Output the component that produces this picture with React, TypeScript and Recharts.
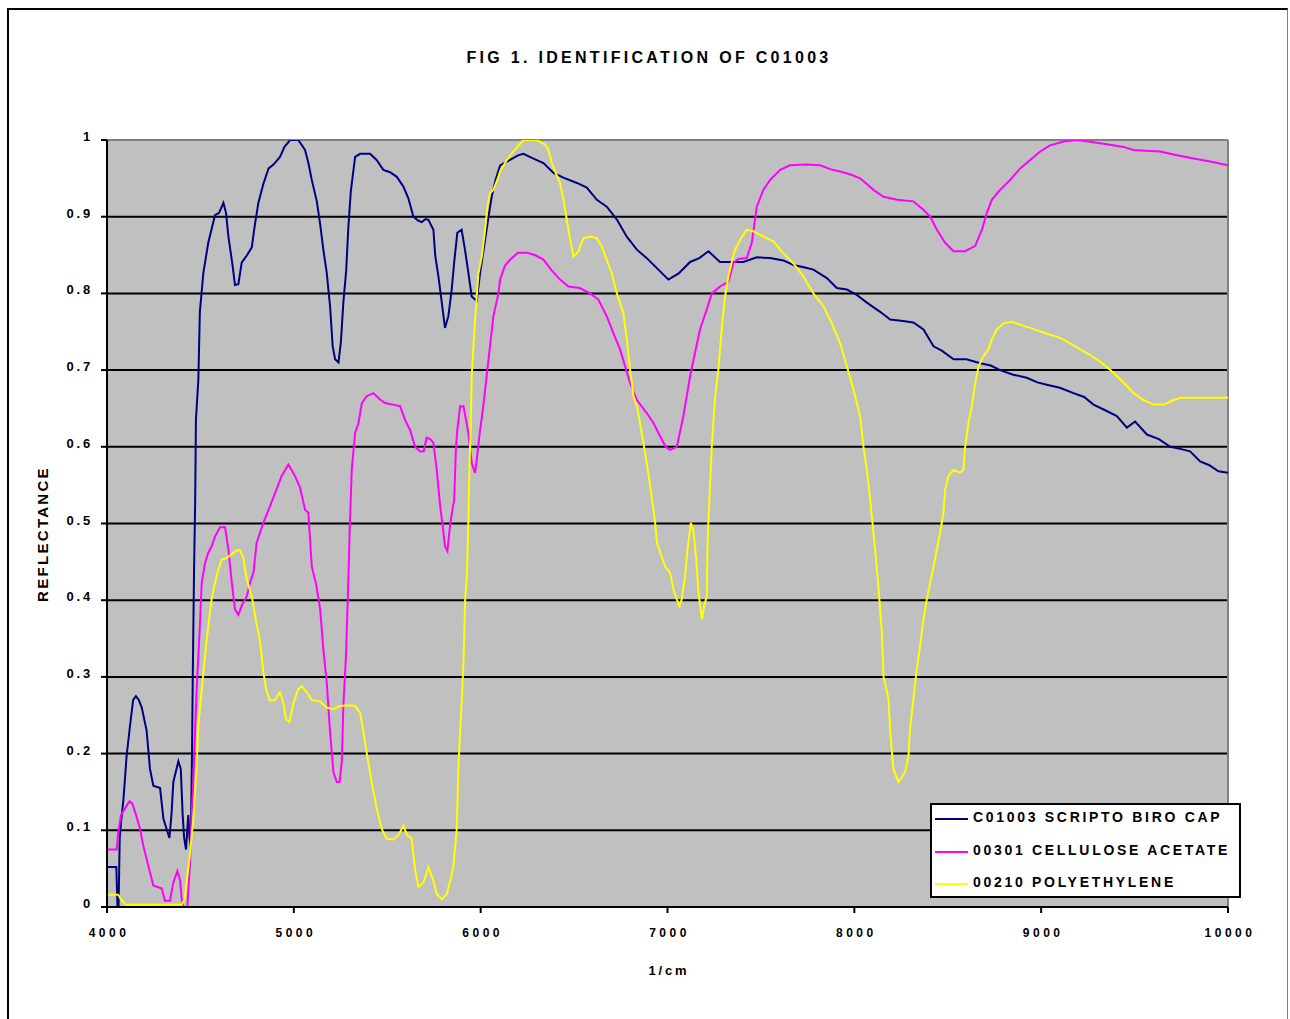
import React from 'react'
import {
  LineChart,
  Line,
  XAxis,
  YAxis,
  CartesianGrid,
  Legend,
  ReferenceLine,
} from 'recharts'

// wavenumber (1/cm) and reflectance
const biroCm = [
  4000, 4050, 4056, 4062, 4068, 4075, 4088, 4105, 4123, 4140, 4155, 4170, 4186, 4212, 4230, 4248, 4284,
  4302, 4334, 4345, 4355, 4382, 4395, 4405, 4413, 4423, 4435, 4442, 4448, 4455, 4459, 4466, 4472, 4476,
  4489, 4497, 4516, 4542, 4578, 4600, 4623, 4637, 4650, 4670, 4685, 4703, 4721, 4750, 4775, 4790, 4810,
  4837, 4865, 4891, 4926, 4950, 4980, 5024, 5060, 5078, 5096, 5123, 5140, 5158, 5176, 5194, 5208, 5221,
  5239, 5252, 5265, 5280, 5292, 5305, 5328, 5355, 5408, 5443, 5479, 5515, 5551, 5587, 5613, 5640, 5665,
  5685, 5705, 5720, 5747, 5757, 5774, 5792, 5809, 5827, 5845, 5858, 5875, 5898, 5916, 5934, 5952, 5979,
  5997, 6024, 6042, 6059, 6080, 6104, 6157, 6200, 6229, 6280, 6336, 6390, 6443, 6515, 6568, 6622, 6675,
  6730, 6782, 6836, 6889, 6943, 7005, 7060, 7121, 7170, 7219, 7281, 7350, 7406, 7478, 7549, 7620, 7674,
  7730, 7781, 7853, 7906, 7960, 8013, 8067, 8138, 8192, 8260, 8316, 8370, 8424, 8470, 8531, 8600, 8674,
  8730, 8780, 8850, 8923, 8980, 9030, 9100, 9173, 9230, 9280, 9340, 9405, 9459, 9503, 9566, 9630, 9691,
  9750, 9797, 9851, 9900, 9949, 10000,
]
const biroRefl = [
  0.052, 0.052, 0.0, 0.0, 0.09, 0.11, 0.14, 0.197, 0.236, 0.27, 0.275, 0.27, 0.26, 0.23, 0.18, 0.158, 0.155,
  0.115, 0.09, 0.12, 0.163, 0.19, 0.18, 0.12, 0.09, 0.075, 0.12, 0.09, 0.08, 0.2, 0.3, 0.44, 0.53, 0.635,
  0.688, 0.776, 0.827, 0.866, 0.902, 0.905, 0.918, 0.905, 0.874, 0.84, 0.811, 0.812, 0.84, 0.85, 0.86, 0.887, 0.918,
  0.943, 0.963, 0.968, 0.978, 0.991, 1.0, 1.0, 0.987, 0.97, 0.948, 0.92, 0.892, 0.857, 0.827, 0.783, 0.731, 0.714,
  0.71, 0.737, 0.788, 0.829, 0.887, 0.933, 0.978, 0.982, 0.982, 0.974, 0.961, 0.958, 0.952, 0.939, 0.924, 0.9, 0.895,
  0.893, 0.897, 0.896, 0.883, 0.849, 0.822, 0.788, 0.755, 0.77, 0.805, 0.84, 0.879, 0.883, 0.857, 0.827, 0.796, 0.79,
  0.827, 0.87, 0.9, 0.926, 0.948, 0.967, 0.974, 0.98, 0.982, 0.976, 0.97, 0.957, 0.951, 0.944, 0.938, 0.922, 0.913,
  0.896, 0.874, 0.857, 0.846, 0.833, 0.818, 0.826, 0.841, 0.846, 0.855, 0.841, 0.841, 0.841, 0.847, 0.846, 0.843, 0.837,
  0.834, 0.831, 0.82, 0.807, 0.805, 0.798, 0.788, 0.776, 0.766, 0.764, 0.762, 0.753, 0.731, 0.725, 0.714, 0.714, 0.709,
  0.706, 0.7, 0.694, 0.69, 0.684, 0.681, 0.677, 0.67, 0.665, 0.655, 0.648, 0.64, 0.625, 0.633, 0.616, 0.61, 0.6,
  0.597, 0.594, 0.581, 0.576, 0.568, 0.566,
]

const acetateCm = [
  4000, 4052, 4060, 4075, 4088, 4120, 4135, 4150, 4177, 4194, 4221, 4248, 4293, 4310, 4337, 4355, 4377,
  4391, 4400, 4409, 4430, 4445, 4453, 4462, 4470, 4480, 4497, 4507, 4525, 4542, 4560, 4578, 4605, 4632,
  4650, 4668, 4685, 4703, 4725, 4748, 4766, 4784, 4801, 4837, 4873, 4900, 4935, 4971, 5006, 5033, 5060,
  5078, 5096, 5120, 5141, 5158, 5176, 5194, 5212, 5230, 5245, 5257, 5265, 5279, 5292, 5300, 5310, 5328,
  5346, 5364, 5390, 5426, 5460, 5488, 5530, 5569, 5595, 5622, 5649, 5676, 5695, 5711, 5730, 5747, 5765,
  5783, 5800, 5809, 5822, 5836, 5850, 5858, 5868, 5875, 5890, 5908, 5934, 5952, 5970, 5979, 5995, 6014,
  6032, 6050, 6068, 6095, 6104, 6130, 6157, 6200, 6247, 6290, 6336, 6380, 6425, 6470, 6530, 6586, 6630,
  6675, 6711, 6746, 6773, 6800, 6836, 6889, 6925, 6960, 6990, 7014, 7050, 7085, 7121, 7145, 7174, 7210,
  7237, 7281, 7326, 7353, 7380, 7424, 7451, 7478, 7513, 7549, 7603, 7656, 7740, 7817, 7870, 7924, 7980,
  8031, 8070, 8102, 8156, 8230, 8316, 8370, 8406, 8442, 8486, 8531, 8593, 8647, 8683, 8709, 8736, 8780,
  8834, 8888, 8941, 8995, 9048, 9120, 9191, 9280, 9360, 9441, 9494, 9560, 9637, 9727, 9816, 9905, 10000,
]
const acetateRefl = [
  0.075, 0.075, 0.097, 0.12, 0.125, 0.138, 0.135, 0.124, 0.102, 0.08, 0.054, 0.028, 0.024, 0.008, 0.008, 0.032, 0.047,
  0.035, 0.01, 0.0, 0.0, 0.06, 0.12, 0.163, 0.22, 0.284, 0.366, 0.423, 0.449, 0.462, 0.47, 0.483, 0.495, 0.495,
  0.466, 0.423, 0.388, 0.381, 0.395, 0.405, 0.423, 0.436, 0.475, 0.501, 0.523, 0.54, 0.562, 0.577, 0.562, 0.547, 0.518,
  0.514, 0.444, 0.42, 0.388, 0.336, 0.293, 0.228, 0.176, 0.163, 0.163, 0.19, 0.262, 0.327, 0.427, 0.5, 0.57, 0.618,
  0.631, 0.657, 0.666, 0.67, 0.662, 0.657, 0.655, 0.653, 0.635, 0.622, 0.6, 0.594, 0.594, 0.612, 0.61, 0.605, 0.57,
  0.523, 0.49, 0.47, 0.464, 0.497, 0.52, 0.53, 0.6, 0.622, 0.653, 0.653, 0.618, 0.579, 0.566, 0.583, 0.618, 0.653,
  0.692, 0.731, 0.77, 0.8, 0.818, 0.836, 0.844, 0.853, 0.853, 0.85, 0.844, 0.83, 0.818, 0.809, 0.807, 0.8, 0.792,
  0.77, 0.748, 0.727, 0.705, 0.683, 0.661, 0.644, 0.631, 0.614, 0.6, 0.596, 0.6, 0.64, 0.692, 0.72, 0.753, 0.779,
  0.8, 0.809, 0.815, 0.84, 0.845, 0.846, 0.866, 0.913, 0.935, 0.948, 0.961, 0.967, 0.968, 0.967, 0.962, 0.959, 0.955,
  0.95, 0.942, 0.935, 0.926, 0.922, 0.92, 0.909, 0.9, 0.883, 0.866, 0.855, 0.855, 0.862, 0.883, 0.905, 0.922, 0.935,
  0.948, 0.963, 0.974, 0.985, 0.993, 0.998, 1.0, 0.997, 0.994, 0.991, 0.987, 0.986, 0.985, 0.98, 0.976, 0.972, 0.967,
]

const polyCm = [
  4000, 4060, 4075, 4100, 4250, 4400, 4415, 4430, 4445, 4462, 4480, 4489, 4507, 4530, 4542, 4560, 4578,
  4596, 4614, 4640, 4668, 4694, 4712, 4730, 4748, 4775, 4793, 4820, 4837, 4855, 4873, 4900, 4926, 4944,
  4958, 4976, 4998, 5024, 5042, 5069, 5096, 5140, 5176, 5212, 5248, 5292, 5328, 5355, 5373, 5390, 5417,
  5444, 5470, 5497, 5533, 5560, 5587, 5605, 5631, 5649, 5667, 5694, 5720, 5747, 5765, 5792, 5819, 5836,
  5854, 5872, 5881, 5899, 5908, 5917, 5926, 5934, 5940, 5946, 5952, 5970, 5988, 6006, 6024, 6036, 6050,
  6068, 6095, 6104, 6140, 6175, 6229, 6300, 6345, 6363, 6381, 6400, 6425, 6443, 6461, 6479, 6497, 6523,
  6550, 6586, 6622, 6648, 6675, 6702, 6729, 6764, 6782, 6800, 6818, 6836, 6853, 6871, 6889, 6907, 6925,
  6934, 6943, 6969, 6987, 7014, 7032, 7050, 7064, 7076, 7094, 7107, 7125, 7139, 7154, 7166, 7184, 7196,
  7210, 7215, 7224, 7237, 7255, 7272, 7290, 7308, 7326, 7344, 7362, 7389, 7424, 7460, 7513, 7567, 7621,
  7674, 7728, 7781, 7835, 7880, 7924, 7960, 7996, 8031, 8049, 8067, 8085, 8111, 8129, 8147, 8156, 8183,
  8192, 8209, 8236, 8272, 8290, 8298, 8316, 8334, 8352, 8370, 8388, 8424, 8459, 8477, 8486, 8504, 8531,
  8566, 8584, 8593, 8611, 8629, 8647, 8665, 8691, 8718, 8736, 8763, 8798, 8843, 8890, 8941, 9000, 9048,
  9102, 9155, 9209, 9260, 9316, 9370, 9423, 9460, 9494, 9548, 9601, 9655, 9700, 9744, 9887, 10000,
]
const polyRefl = [
  0.016, 0.016, 0.01, 0.003, 0.003, 0.003, 0.01, 0.041, 0.071, 0.115, 0.184, 0.236, 0.284, 0.34, 0.366, 0.401, 0.423,
  0.44, 0.453, 0.455, 0.46, 0.465, 0.465, 0.455, 0.427, 0.405, 0.379, 0.345, 0.306, 0.28, 0.269, 0.27, 0.28, 0.266,
  0.245, 0.241, 0.266, 0.284, 0.288, 0.28, 0.27, 0.268, 0.26, 0.258, 0.262, 0.263, 0.262, 0.253, 0.227, 0.201, 0.162,
  0.128, 0.102, 0.089, 0.088, 0.094, 0.106, 0.094, 0.089, 0.049, 0.026, 0.032, 0.052, 0.034, 0.017, 0.01, 0.017, 0.034,
  0.052, 0.102, 0.184, 0.27, 0.319, 0.401, 0.431, 0.501, 0.575, 0.618, 0.692, 0.766, 0.826, 0.848, 0.883, 0.913, 0.931,
  0.935, 0.952, 0.959, 0.974, 0.985, 1.0, 1.0, 0.994, 0.987, 0.97, 0.958, 0.944, 0.922, 0.896, 0.87, 0.848, 0.855,
  0.872, 0.874, 0.872, 0.861, 0.844, 0.826, 0.8, 0.774, 0.74, 0.7, 0.666, 0.653, 0.631, 0.605, 0.579, 0.549, 0.518,
  0.501, 0.475, 0.457, 0.444, 0.436, 0.414, 0.401, 0.392, 0.401, 0.431, 0.466, 0.501, 0.49, 0.453, 0.41, 0.375, 0.392,
  0.405, 0.479, 0.531, 0.6, 0.666, 0.7, 0.753, 0.796, 0.822, 0.841, 0.857, 0.87, 0.883, 0.881, 0.874, 0.868, 0.852,
  0.839, 0.822, 0.8, 0.783, 0.761, 0.735, 0.705, 0.674, 0.64, 0.6, 0.57, 0.531, 0.466, 0.418, 0.358, 0.301, 0.271,
  0.228, 0.18, 0.163, 0.176, 0.197, 0.232, 0.271, 0.31, 0.34, 0.375, 0.401, 0.444, 0.488, 0.514, 0.544, 0.562, 0.57,
  0.566, 0.57, 0.6, 0.631, 0.653, 0.683, 0.705, 0.718, 0.727, 0.74, 0.753, 0.761, 0.763, 0.759, 0.755, 0.75, 0.746,
  0.742, 0.735, 0.727, 0.72, 0.711, 0.7, 0.688, 0.679, 0.67, 0.661, 0.655, 0.655, 0.66, 0.664, 0.664, 0.664,
]

const seriesNames = ['C01003 SCRIPTO BIRO CAP', '00301 CELLULOSE ACETATE', '00210 POLYETHYLENE']
const xTicks = [4000, 5000, 6000, 7000, 8000, 9000, 10000]
const yTicks = [0, 0.1, 0.2, 0.3, 0.4, 0.5, 0.6, 0.7, 0.8, 0.9, 1]

const toPoints = (cm: number[], refl: number[]) => cm.map((c, i) => ({ cm: c, refl: refl[i] }))

const biroData = toPoints(biroCm, biroRefl)
const acetateData = toPoints(acetateCm, acetateRefl)
const polyData = toPoints(polyCm, polyRefl)

const FONT = '"Liberation Sans", Arial, sans-serif'

const YTick = (props: any) => {
  const { x, y, payload } = props
  const v = payload.value
  const label = v === 0 || v === 1 ? String(v) : v.toFixed(1)
  return (
    <text x={x} y={y} dy={1} textAnchor="end" fontFamily={FONT} fontSize={13} fontWeight="bold"
      letterSpacing={2.8} fill="#000">
      {label}
    </text>
  )
}

const XTick = (props: any) => {
  const { x, y, payload } = props
  return (
    <text x={x + 2} y={y} dy={20} textAnchor="middle" fontFamily={FONT} fontSize={12} fontWeight="bold"
      letterSpacing={3.5} fill="#000">
      {payload.value}
    </text>
  )
}

const renderLegend = (props: any) => {
  // keep the series order (the legend would otherwise sort by name)
  const items = [...props.payload].sort(
    (a: any, b: any) => seriesNames.indexOf(a.value) - seriesNames.indexOf(b.value)
  )
  return (
    <div style={{
      width: 307, height: 91, border: '2px solid #000', background: '#fff',
      fontFamily: FONT, fontSize: 14, fontWeight: 'bold', letterSpacing: 2.7, color: '#000',
    }}>
      {items.map((entry: any) => (
        <div key={entry.value} style={{ display: 'flex', alignItems: 'center', height: 24, marginBottom: 8.5 }}>
          <span style={{ display: 'inline-block', width: 33, height: 2, marginLeft: 3, marginRight: 5, marginTop: 4, background: entry.color }} />
          <span style={{ whiteSpace: 'nowrap' }}>{entry.value}</span>
        </div>
      ))}
    </div>
  )
}

export default function App() {
  return (
    <div style={{ position: 'absolute', left: 0, top: 0, width: 1290, height: 1019, overflow: 'hidden', background: '#fff' }}>
      <div style={{
        position: 'absolute', left: 7, top: 8, width: 1278, height: 1030,
        borderLeft: '2px solid #000', borderTop: '2px solid #000', borderRight: '1px solid #808080',
      }} />
      <div style={{
        position: 'absolute', left: 4, top: 49, width: 1290, textAlign: 'center',
        fontFamily: FONT, fontSize: 16, fontWeight: 'bold', letterSpacing: 3.3, color: '#000',
      }}>
        FIG 1. IDENTIFICATION OF C01003
      </div>
      <div style={{ position: 'absolute', left: 0, top: 0 }}>
        <LineChart width={1290} height={1019} margin={{ top: 140, right: 62, bottom: 72, left: 32 }}>
          <CartesianGrid vertical={false} stroke="#000" strokeWidth={2} fill="#c0c0c0" fillOpacity={1} />
          <XAxis
            type="number"
            dataKey="cm"
            domain={[4000, 10000]}
            ticks={xTicks}
            allowDataOverflow
            height={40}
            stroke="#000"
            strokeWidth={2}
            tickSize={6}
            tickMargin={4}
            tick={<XTick />}
            label={{
              content: () => (
                <text x={669} y={975} textAnchor="middle" fontFamily={FONT} fontSize={13} fontWeight="bold"
                  letterSpacing={2.8} fill="#000">
                  1/cm
                </text>
              ),
            }}
          />
          <YAxis
            type="number"
            domain={[0, 1]}
            ticks={yTicks}
            allowDataOverflow
            width={75}
            stroke="#000"
            strokeWidth={2}
            tickSize={6}
            tickMargin={8}
            tick={<YTick />}
            label={{
              content: () => (
                <text x={0} y={0} transform="translate(48 534) rotate(-90)" textAnchor="middle" fontFamily={FONT}
                  fontSize={15} fontWeight="bold" letterSpacing={2.3} fill="#000">
                  REFLECTANCE
                </text>
              ),
            }}
          />
          <ReferenceLine y={1} stroke="#808080" strokeWidth={2} />
          <ReferenceLine x={10000} stroke="#808080" strokeWidth={2} />
          <Line data={biroData} dataKey="refl" name={seriesNames[0]} type="linear" stroke="#000080"
            strokeWidth={2} dot={false} isAnimationActive={false} />
          <Line data={acetateData} dataKey="refl" name={seriesNames[1]} type="linear" stroke="#ff00ff"
            strokeWidth={2} dot={false} isAnimationActive={false} />
          <Line data={polyData} dataKey="refl" name={seriesNames[2]} type="linear" stroke="#ffff00"
            strokeWidth={2} dot={false} isAnimationActive={false} />
          <Legend
            layout="vertical"
            align="center"
            verticalAlign="middle"
            content={renderLegend}
            wrapperStyle={{ left: 930, top: 803, width: 311, height: 95 }}
          />
        </LineChart>
      </div>
    </div>
  )
}
